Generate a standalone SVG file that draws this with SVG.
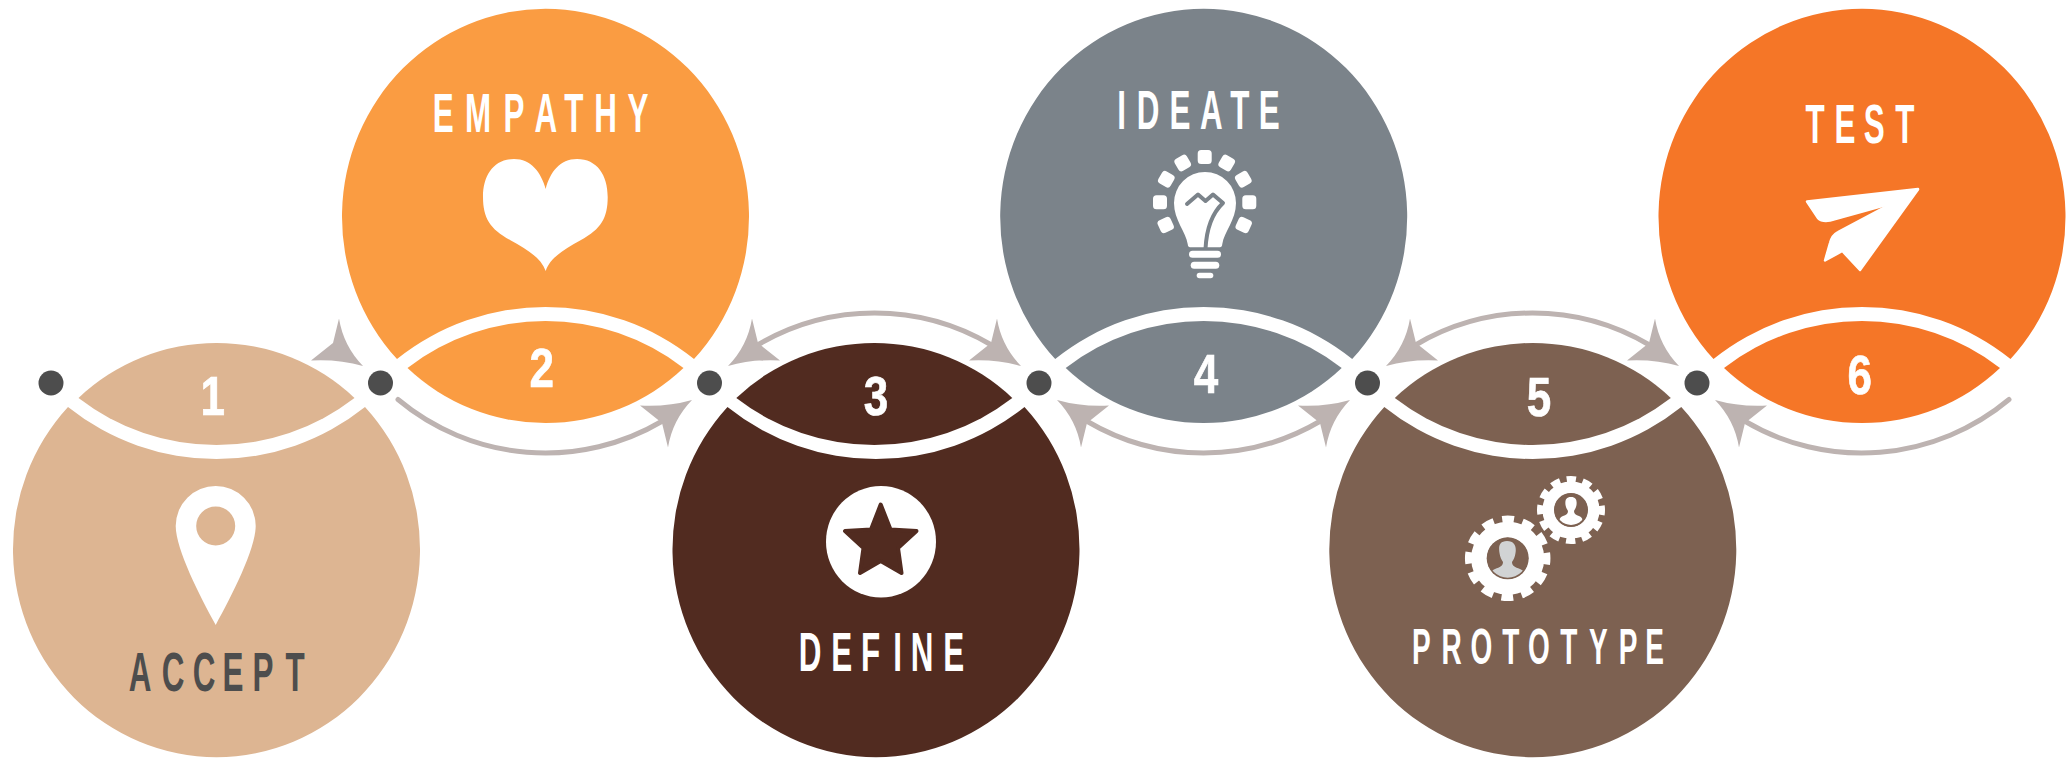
<svg xmlns="http://www.w3.org/2000/svg" width="2068" height="758" viewBox="0 0 2068 758">
<style>
.t{font-family:"Liberation Sans",Arial,sans-serif;font-weight:700;text-anchor:middle;font-size:56px;fill:#fff}
.p{font-size:50px}
.d{font-size:55px;stroke:#fff;stroke-width:.7}
.dark{fill:#4d4d4d}
.line{fill:none;stroke:#bdb3b1;stroke-width:5;stroke-linecap:round}
.head{fill:#bdb3b1}
.dot{fill:#4d4d4d}
.w{fill:#fff}
.ray{fill:#fff;stroke:#fff;stroke-width:2;stroke-linejoin:round}
</style>
<defs>
<path id="up" d="M-148.500 407A203.500 208 0 1 0 148.500 407A238 238 0 0 1-148.500 407Z"/>
<path id="lup" d="M-138 398A200.600 200.600 0 0 1 138 398A226 226 0 0 1-138 398Z"/>
<path id="dn" d="M-148.500 359A203.500 208 0 1 1 148.500 359A238 238 0 0 0-148.500 359Z"/>
<path id="ldn" d="M-138 368A226 226 0 0 1 138 368A200.600 200.600 0 0 1-138 368Z"/>
<path id="h" class="head" d="M146.500 400Q122 407 94.500 405.500L116.500 423L122.500 447.500Q127 420 146.500 400Z"/>
<path id="arc" class="line" d="M-147.500 399.500A230 230 0 0 0 117 421"/>
<path id="arc2" class="line" d="M-117 421A230 230 0 0 0 117 421"/>
<rect id="r" x="-6" y="-6" width="12" height="12" rx="2.500" class="ray"/>
<clipPath id="c1"><circle cx="1507.700" cy="558.300" r="19.500"/></clipPath>
<clipPath id="c2"><circle cx="1571" cy="510" r="15"/></clipPath>
</defs>

<g id="connectors">
<use href="#h" transform="translate(216.500 766) scale(1 -1)"/>

<use href="#arc" transform="translate(545.500 0)"/>
<use href="#h" transform="translate(545.500 0)"/>

<use href="#arc2" transform="translate(874.500 766) scale(1 -1)"/>
<use href="#h" transform="translate(874.500 766) scale(1 -1)"/>
<use href="#h" transform="translate(874.500 766) scale(-1 -1)"/>

<use href="#arc2" transform="translate(1203.500 0)"/>
<use href="#h" transform="translate(1203.500 0)"/>
<use href="#h" transform="translate(1203.500 0) scale(-1 1)"/>

<use href="#arc2" transform="translate(1532.500 766) scale(1 -1)"/>
<use href="#h" transform="translate(1532.500 766) scale(1 -1)"/>
<use href="#h" transform="translate(1532.500 766) scale(-1 -1)"/>

<use href="#arc" transform="translate(1861.500 0) scale(-1 1)"/>
<use href="#h" transform="translate(1861.500 0) scale(-1 1)"/>
</g>

<g id="dots">
<circle class="dot" cx="51" cy="383" r="12.500"/>
<circle class="dot" cx="380.500" cy="383" r="12.500"/>
<circle class="dot" cx="709.500" cy="383" r="12.500"/>
<circle class="dot" cx="1039" cy="383" r="12.500"/>
<circle class="dot" cx="1367.500" cy="383" r="12.500"/>
<circle class="dot" cx="1697" cy="383" r="12.500"/>
</g>

<g id="node-1">
<use href="#up" x="216.500" fill="#ddb592"/>
<use href="#lup" x="216.500" fill="#ddb592"/>
<text class="t d" transform="translate(212.700 415) scale(.8 1)">1</text>
<path class="w" fill-rule="evenodd" d="M215.700 625C200 596 176 550 175.700 526A40 40 0 1 1 255.700 526C255.400 550 231.400 596 215.700 625ZM215.700 506.500A19.500 19.500 0 1 0 215.700 545.500A19.500 19.500 0 1 0 215.700 506.500Z"/>
<text class="t dark" transform="translate(0 691) scale(.56 1)" x="250 308.900 364.300 416.100 469.600 526.800">ACCEPT</text>
</g>

<g id="node-2">
<use href="#dn" x="545.500" fill="#fa9c42"/>
<use href="#ldn" x="545.500" fill="#fa9c42"/>
<text class="t d" transform="translate(541.700 386.700) scale(.8 1)">2</text>
<path class="w" d="M545.700 189C541 172 531 159 514 159C494 159 483 175 483 197C483 218 490 229 510 240C528 250 541 258 545.700 271C550 258 563 250 581 240C601 229 607.700 218 607.700 197C607.700 175 597 159 577 159C560 159 550 172 545.700 189Z"/>
<text class="t" transform="translate(0 131.700) scale(.56 1)" x="791.600 853.600 917.900 974.500 1024.500 1081.600 1139.300">EMPATHY</text>
</g>

<g id="node-3">
<use href="#up" x="876" fill="#512b20"/>
<use href="#lup" x="874.300" fill="#512b20"/>
<text class="t d" transform="translate(876 415) scale(.8 1)">3</text>
<ellipse class="w" cx="881" cy="541.700" rx="55" ry="55.800"/>
<path fill="#512b20" stroke="#512b20" stroke-width="4" stroke-linejoin="round" d="M880.700 504.500L890.500 529.500L916.500 531L898 548L901.500 573L880.700 561L860 573L863.500 548L845 531L871 529.500Z"/>
<text class="t" transform="translate(0 671) scale(.56 1)" x="1446.400 1503 1554.800 1603 1646.400 1703">DEFINE</text>
</g>

<g id="node-4">
<use href="#dn" x="1203.700" fill="#7b838a"/>
<use href="#ldn" x="1203.700" fill="#7b838a"/>
<text class="t d" transform="translate(1206 393) scale(.8 1)">4</text>
<text class="t" transform="translate(0 129.300) scale(.56 1)" x="2003 2050 2107.100 2163 2213.800 2266.600">IDEATE</text>
<g id="bulb">
<use href="#r" transform="translate(1204.700 157)"/>
<use href="#r" transform="translate(1182.700 163) rotate(-30)"/>
<use href="#r" transform="translate(1226.700 163) rotate(30)"/>
<use href="#r" transform="translate(1166.300 179.300) rotate(-60)"/>
<use href="#r" transform="translate(1243.300 179.300) rotate(60)"/>
<use href="#r" transform="translate(1160 202.300)"/>
<use href="#r" transform="translate(1249.300 202.300)"/>
<use href="#r" transform="translate(1165.700 225) rotate(-25)"/>
<use href="#r" transform="translate(1243.700 225) rotate(25)"/>
<path class="w" d="M1190 247.300Q1188 247.300 1187.700 244C1186 232 1174 220 1174 203A31 31 0 0 1 1236 203C1236 220 1224 232 1222.300 244Q1222 247.300 1220 247.300Z"/>
<path fill="none" stroke="#7b838a" stroke-width="4" stroke-linejoin="round" stroke-linecap="round" d="M1187 204L1198 194.500L1205.500 201L1213 194.500L1223 203Q1207 218 1205.500 249"/>
<rect class="w" x="1189" y="250.700" width="32" height="7" rx="3.500"/>
<rect class="w" x="1190.700" y="261.700" width="28.600" height="7" rx="3.500"/>
<rect class="w" x="1196.700" y="272.700" width="16.600" height="5.500" rx="2.700"/>
</g>
</g>

<g id="node-5">
<use href="#up" x="1532.800" fill="#7d6151"/>
<use href="#lup" x="1532.800" fill="#7d6151"/>
<text class="t d" transform="translate(1539 415.700) scale(.8 1)">5</text>
<g id="gear-large">
<circle cx="1507.700" cy="558.300" r="38.500" fill="none" stroke="#fff" stroke-width="8.500" pathLength="24" stroke-dasharray="1.150 .85" transform="rotate(-8 1507.700 558.300)"/>
<circle cx="1507.700" cy="558.300" r="28.500" fill="none" stroke="#fff" stroke-width="16"/>
<circle cx="1507.700" cy="558.300" r="21" fill="#7d6151"/>
<path clip-path="url(#c1)" fill="#d1d3d4" d="M1507 541C1499 541 1498.500 547 1499.500 553C1500 557 1501.500 560 1503 562C1503 566 1500 567 1495 569C1490 571 1489 574 1488 581H1527C1526 574 1525 571 1520 569C1515 567 1512 566 1512 562C1513.500 560 1515 557 1515.500 553C1516.500 547 1515 541 1507 541Z"/>
</g>
<g id="gear-small">
<circle cx="1571" cy="510" r="30.500" fill="none" stroke="#fff" stroke-width="7" pathLength="24" stroke-dasharray="1.150 .85" transform="rotate(-8 1571 510)"/>
<circle cx="1571" cy="510" r="22.500" fill="none" stroke="#fff" stroke-width="12"/>
<circle cx="1571" cy="510" r="17" fill="#7d6151"/>
<path clip-path="url(#c2)" fill="#fff" d="M1571 497C1565.500 497 1565 501 1565.500 505C1566 508 1567.500 510 1568 511C1568 514 1566 515 1563 516C1560 517 1559 519 1558.500 526H1583.500C1583 519 1582 517 1579 516C1576 515 1574 514 1574 511C1574.500 510 1576 508 1576.500 505C1577 501 1576.500 497 1571 497Z"/>
</g>
<text class="t p" transform="translate(0 664) scale(.56 1)" x="2538 2592.300 2645.200 2697.700 2748.200 2801.300 2854.100 2907.100 2954.800">PROTOTYPE</text>
</g>

<g id="node-6">
<use href="#dn" x="1862" fill="#f57627"/>
<use href="#ldn" x="1862" fill="#f57627"/>
<text class="t d" transform="translate(1859.700 394) scale(.8 1)">6</text>
<path class="w" stroke="#fff" stroke-width="2.500" stroke-linejoin="round" d="M1807 201.500L1918 189L1892.300 203.300L1830 220.500Q1822 222 1818 218Z"/>
<path class="w" stroke="#fff" stroke-width="2.500" stroke-linejoin="round" d="M1918 189.500L1860 270L1842.300 251L1825 260.500L1830 243Q1832 235 1838 232Z"/>
<text class="t" transform="translate(0 143.300) scale(.56 1)" x="3241.100 3294.600 3347 3401.300">TEST</text>
</g>
</svg>
